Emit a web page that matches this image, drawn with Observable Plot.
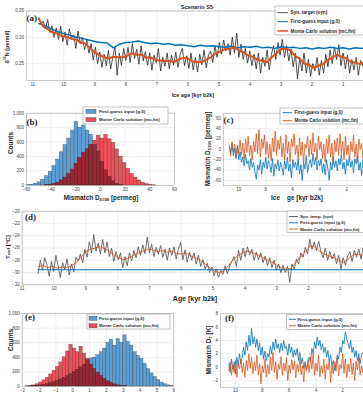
<!DOCTYPE html>
<html><head><meta charset="utf-8">
<script src="https://cdn.jsdelivr.net/npm/d3@7"></script>
<script src="https://cdn.jsdelivr.net/npm/@observablehq/plot@0.6"></script>
<style>
html,body{margin:0;padding:0;background:#fff;overflow:hidden;}
#fig{position:relative;width:363px;height:393px;overflow:hidden;background:#fff;}
#fig svg{position:absolute;max-width:none;}
</style></head><body><div id="fig"></div>
<script>
// ---------------- (a) d15N records ----------------
const aSynStart = 10.8, aSynStep = 0.07;
const aSyn = [
0.338,0.325,0.331,0.316,0.334,0.309,0.322,0.300,0.318,0.296,
0.321,0.292,0.310,0.285,0.316,0.298,0.305,0.279,0.312,0.288,
0.300,0.276,0.295,0.270,0.288,0.257,0.281,0.250,0.272,0.243,
0.268,0.246,0.275,0.240,0.262,0.283,0.228,0.270,0.247,0.279,
0.256,0.281,0.252,0.288,0.260,0.277,0.249,0.284,0.255,0.273,
0.247,0.270,0.238,0.266,0.252,0.279,0.236,0.262,0.245,0.270,
0.240,0.266,0.247,0.272,0.243,0.268,0.279,0.246,0.265,0.241,
0.270,0.238,0.262,0.234,0.268,0.248,0.276,0.242,0.266,0.274,
0.252,0.284,0.262,0.290,0.268,0.295,0.274,0.288,0.266,0.300,
0.270,0.308,0.262,0.287,0.258,0.279,0.251,0.274,0.246,0.268,
0.240,0.270,0.232,0.262,0.245,0.276,0.238,0.268,0.284,0.258,
0.290,0.266,0.296,0.262,0.284,0.255,0.278,0.244,0.270,0.221,
0.262,0.236,0.270,0.232,0.258,0.226,0.250,0.236,0.262,0.228,
0.256,0.232,0.268,0.244,0.276,0.250,0.282,0.258,0.286,0.246,
0.270,0.240,0.266,0.232,0.258,0.238,0.262,0.228,0.256,0.245,
0.262,0.240,0.268,0.246,0.258];
const aGuessStart = 10.8, aGuessStep = 0.2;
const aGuess = [
0.326,0.322,0.316,0.311,0.307,0.304,0.300,0.298,0.295,0.292,
0.290,0.289,0.280,0.287,0.290,0.291,0.293,0.290,0.288,0.289,
0.287,0.288,0.285,0.286,0.284,0.282,0.285,0.283,0.284,0.282,
0.281,0.283,0.280,0.282,0.281,0.283,0.280,0.281,0.279,0.282,
0.280,0.281,0.279,0.280,0.278,0.280,0.279,0.281,0.279,0.280,
0.278,0.280,0.279,0.281,0.280];
const aMcStart = 10.8, aMcStep = 0.15;
const aMc = [
0.334,0.320,0.315,0.309,0.307,0.302,0.301,0.297,0.296,0.290,
0.288,0.279,0.271,0.267,0.262,0.260,0.263,0.262,0.262,0.265,
0.270,0.267,0.267,0.261,0.262,0.257,0.256,0.255,0.255,0.253,
0.258,0.261,0.260,0.254,0.253,0.253,0.258,0.262,0.270,0.273,
0.278,0.278,0.281,0.275,0.271,0.265,0.263,0.257,0.256,0.253,
0.262,0.269,0.278,0.278,0.275,0.265,0.259,0.250,0.247,0.242,
0.246,0.249,0.257,0.261,0.267,0.263,0.260,0.253,0.252,0.249,
0.254,0.255,0.256];
const aTicksX = [11,10,9,8,7,6,5,4,3,2,1];
const aTicksY = [0.25,0.30,0.35];
const aNames = ["Syn. target (syn)", "First-guess input (g,0)", "Monte Carlo solution (mc,fin)"];

// ---------------- (b) d15N mismatch histograms ----------------
const bBinWidth = 3;
const bGuessStart = -60;
const bGuess = [5,12,25,45,80,130,190,270,360,460,560,650,760,880,800,830,760,700,560,470,330,210,120,60,25,8];
const bMcStart = -45;
const bMc = [4,10,20,40,70,110,160,220,300,380,450,500,560,620,690,650,700,640,590,500,400,310,230,160,110,70,40,22,10,4];
const bTicksX = [-60,-40,-20,0,20,40,60];
const bTicksY = [0,200,400,600,800,1000];
const histNames = ["First-guess input (g,0)", "Monte Carlo solution (mc,fin)"];

// ---------------- (c) d15N mismatch through time ----------------
const cStart = 10.7, cStep = 0.1;
const cGuess = [
5,-8,12,-12,2,-18,8,-20,-5,-25,
-15,-32,-10,-28,-22,-40,-18,-35,-25,-45,
-58,-30,-40,-20,-48,-25,-35,-15,-38,-22,
-30,-45,-18,-52,-28,-38,-20,-42,-25,-35,
-50,-22,-38,-15,-42,-28,-55,-20,-35,-25,
-40,-18,-48,-30,-60,-25,-38,-12,-45,-28,
-20,-35,-8,-30,-15,-40,-22,-32,-18,-45,
-28,-50,-20,-38,-60,-25,-40,-15,-35,-22,
-42,-18,-30,-10,-38,-25,-48,-20,-32,-15,
-35,-22,-45,-18,-28,-12,-40,-25,-50,-20,
-30,-15,-38,-22,-45,-18,-28,-25];
const cMc = [
8,-12,15,-5,10,-15,5,-8,18,-10,
12,-18,20,-6,25,-12,8,-20,15,-5,
30,-8,38,-15,20,2,28,-10,15,-18,
10,-22,22,-5,35,-12,18,0,25,-15,
12,-20,28,-8,15,-25,20,5,30,-10,
8,-18,22,-12,15,-28,10,2,25,-15,
18,-10,32,-5,12,-20,25,0,15,-18,
10,-25,20,-8,28,-15,12,-30,18,-5,
22,-12,30,-8,15,-20,25,-10,8,-22,
15,-5,28,-15,10,-25,20,0,12,-18,
18,-10,25,-5,12,-20,15,-8];
const cTicksX = [10,8,6,4,2];
const cTicksY = [-60,-40,-20,0,20,40,60];
const lineNames = ["First-guess input (g,0)", "Monte Carlo solution (mc,fin)"];

// ---------------- (d) surface temperature ----------------
const dSynStart = 10.5, dSynStep = 0.07;
const dSyn = [
-30.2,-28.0,-29.6,-27.6,-28.8,-30.6,-28.2,-29.8,-27.2,-28.9,
-30.8,-28.4,-29.5,-27.8,-30.4,-28.6,-29.9,-27.5,-28.1,-27.0,
-28.4,-26.2,-27.5,-25.0,-26.8,-23.8,-26.5,-25.2,-27.0,-24.6,
-26.8,-25.0,-27.4,-26.0,-28.2,-26.6,-27.9,-26.8,-29.2,-27.4,
-28.9,-26.8,-28.1,-26.4,-27.6,-25.8,-27.2,-25.5,-26.9,-24.2,
-26.8,-25.4,-27.4,-25.9,-27.0,-25.6,-27.5,-26.2,-28.0,-26.0,
-27.2,-25.8,-27.8,-26.2,-25.1,-27.9,-26.3,-28.3,-26.7,-28.0,
-26.8,-28.6,-27.2,-29.0,-27.9,-29.4,-28.5,-30.0,-29.1,-30.5,
-29.4,-30.8,-29.7,-30.3,-28.9,-30.2,-29.0,-28.2,-27.4,-29.0,
-26.4,-28.0,-26.0,-27.4,-25.8,-27.1,-26.2,-28.0,-26.7,-27.9,
-26.8,-28.4,-27.3,-28.9,-27.6,-29.2,-28.0,-29.6,-28.6,-30.0,
-28.8,-30.0,-29.0,-31.6,-28.6,-29.4,-27.8,-28.6,-26.8,-27.5,
-25.9,-27.0,-24.6,-26.2,-25.0,-26.4,-24.9,-26.6,-27.6,-26.0,
-28.0,-26.6,-27.8,-26.9,-28.6,-27.2,-29.4,-27.6,-28.8,-27.3,
-26.6,-28.2,-26.4,-27.5,-26.2,-27.8,-25.9,-27.3,-26.8,-28.0,
-27.2];
const dGuessLevel = -29.55;
const dGuessAges = [10.5, 0];
const dMcStart = 10.5, dMcStep = 0.15;
const dMc = [
-29.1,-28.8,-29.2,-29.0,-29.3,-29.1,-29.2,-28.9,-28.4,-27.5,
-26.6,-26.2,-26.0,-25.8,-26.1,-26.6,-27.2,-27.6,-27.9,-27.6,
-27.2,-26.8,-26.5,-26.2,-26.3,-26.6,-26.4,-26.7,-26.5,-26.9,
-27.0,-26.8,-27.3,-27.6,-28.0,-28.6,-29.3,-29.8,-30.0,-29.7,
-28.8,-27.8,-27.2,-26.7,-26.5,-26.8,-27.1,-27.5,-27.9,-28.3,
-28.8,-29.2,-29.5,-29.3,-28.4,-27.5,-26.6,-25.7,-25.8,-26.5,
-27.0,-27.3,-27.6,-28.0,-28.4,-27.8,-27.1,-27.0,-27.2,-27.0,
-27.3];
const dTicksX = [11,10,9,8,7,6,5,4,3,2,1];
const dTicksY = [-32,-30,-28,-26,-24,-22,-20];
const dNames = ["Syn. temp. (syn)", "First-guess input (g,0)", "Monte Carlo solution (mc,fin)"];

// ---------------- (e) temperature mismatch histograms ----------------
const eBinWidth = 0.2;
const eGuessStart = -2.6;
const eGuess = [2,5,10,16,24,34,46,60,78,98,120,145,170,200,230,265,300,360,385,395,430,470,520,600,640,560,650,600,700,610,560,470,420,380,310,240,180,130,90,55,30,15,6];
const eMcStart = -2.8;
const eMc = [3,8,16,30,55,85,120,165,215,270,330,400,480,570,520,470,545,450,380,300,240,190,140,100,70,45,28,15,7,3];
const eTicksX = [-3,-2,-1,0,1,2,3,4,5,6];
const eTicksY = [0,200,400,600,800,1000];

// ---------------- (f) temperature mismatch through time ----------------
const fStart = 10.5, fStep = 0.1;
const fGuess = [
0.5,-0.8,1.2,-0.3,0.8,-1.0,1.5,0.2,2.0,0.5,
1.5,3.0,1.8,3.8,2.5,4.8,3.2,5.8,3.5,4.5,
3.0,4.2,2.5,3.6,1.8,3.0,1.2,2.4,1.0,2.0,
1.5,3.2,2.0,3.8,2.6,4.2,2.8,3.5,2.2,3.6,
2.5,4.0,2.8,3.2,1.8,3.5,2.2,3.0,1.5,2.6,
1.8,2.8,1.0,2.2,0.5,1.4,-0.2,0.8,-0.5,0.6,
1.5,0.8,2.8,2.0,3.8,2.8,4.5,3.2,4.0,2.6,
3.5,2.2,3.0,1.5,2.5,0.8,1.8,0.2,1.0,-0.5,
0.5,1.8,1.2,3.0,2.2,4.0,3.5,5.3,4.2,3.6,
2.8,4.0,2.2,3.0,1.5,2.5,1.0,2.0,0.5,1.8,
2.2,1.5,2.8,1.8,3.2,2.4];
const fMc = [
-0.5,0.8,-1.2,0.3,-0.8,1.0,-1.5,0.5,-0.2,1.2,
-0.8,0.6,-1.5,1.0,-0.5,2.0,-0.2,1.5,-1.0,0.8,
-0.5,1.8,-1.2,0.5,-2.5,0.2,-0.8,1.2,-1.5,0.4,
-1.0,1.5,-0.5,2.2,-0.8,0.8,-1.8,0.5,-0.3,1.6,
-1.2,0.6,-0.6,1.4,-2.0,0.3,-0.9,1.1,-0.4,0.9,
-1.6,0.4,-0.7,1.3,-1.1,0.2,-2.2,0.7,-0.5,1.0,
-0.8,1.5,-0.3,2.0,-1.2,0.6,-0.6,1.8,-1.4,0.2,
-0.9,1.2,-1.8,0.5,-0.4,1.0,-2.3,0.3,-1.0,0.8,
-0.6,1.6,-1.3,0.4,-0.2,2.0,-0.9,1.2,-1.6,0.5,
-0.7,1.3,-1.1,0.6,-2.0,0.9,-0.4,1.5,-1.2,0.3,
-0.8,1.1,-0.5,0.7,-1.3,0.4];
const fTicksX = [10,8,6,4,2];
const fTicksY = [-2,0,2,4,6,8];

// ---------------- helpers ----------------
const FONT = "'Liberation Sans', Arial, sans-serif";
const BLUE = "#0072bd", ORANGE = "#d95319";
const HIST_BLUE = "#5b9fd6", HIST_RED = "#ee4f57", HIST_BOTH = "#9a2633";
const fig = document.getElementById("fig");

const series = (start, step, values) => values.map((v, i) => ({age: +(start - i * step).toFixed(3), v}));
const bins = (start, width, counts) => counts.map((n, i) => {
  const x1 = start + i * width;
  return {k: Math.round(x1 / width), x1, x2: x1 + width, n};
});
const shared = (a, b) => {
  const m = new Map(b.map(d => [d.k, d.n]));
  return a.filter(d => m.has(d.k)).map(d => ({...d, n: Math.min(d.n, m.get(d.k))}));
};

const grid = {stroke: "#dedede", strokeOpacity: 1, strokeWidth: 0.5};
const frame = () => Plot.frame({stroke: "#a8a8a8", strokeWidth: 0.6});
const axX = (ticks, fmt) => Plot.axisX(ticks, {tickSize: 0, tickPadding: 2, fontSize: 4.5, label: null, tickFormat: fmt});
const axY = (ticks, fmt) => Plot.axisY(ticks, {tickSize: 0, tickPadding: 2.5, fontSize: 4.5, label: null, tickFormat: fmt});

function panel(left, top, opts) {
  const svg = Plot.plot({
    ...opts,
    style: {background: "transparent", fontFamily: FONT, fontSize: "4.5px", color: "#3c3c3c", maxWidth: "none"}
  });
  svg.style.left = left + "px";
  svg.style.top = top + "px";
  svg.style.maxWidth = "none";
  fig.appendChild(svg);
  return svg;
}

function histMarks(guessRows, mcRows) {
  const edge = {stroke: "#262626", strokeWidth: 0.35, strokeOpacity: 0.75};
  return [
    Plot.rect(guessRows, {x1: "x1", x2: "x2", y1: d => 0, y2: "n", fill: HIST_BLUE, ...edge}),
    Plot.rect(mcRows, {x1: "x1", x2: "x2", y1: d => 0, y2: "n", fill: HIST_RED, ...edge}),
    Plot.rect(shared(guessRows, mcRows), {x1: "x1", x2: "x2", y1: d => 0, y2: "n", fill: HIST_BOTH, ...edge})
  ];
}

// ---------------- (a) ----------------
panel(0, 0, {
  width: 383, height: 100, marginLeft: 26, marginRight: 0, marginTop: 10.5, marginBottom: 20,
  x: {domain: [11.2, -0.3]}, y: {domain: [0.218, 0.35]},
  marks: [
    Plot.gridX(aTicksX, grid), Plot.gridY(aTicksY, grid),
    Plot.line(series(aSynStart, aSynStep, aSyn), {x: "age", y: "v", stroke: "#262626", strokeWidth: 0.8}),
    Plot.line(series(aGuessStart, aGuessStep, aGuess), {x: "age", y: "v", stroke: BLUE, strokeWidth: 1.5}),
    Plot.line(series(aMcStart, aMcStep, aMc), {x: "age", y: "v", stroke: ORANGE, strokeWidth: 2}),
    frame(), axX(aTicksX), axY(aTicksY, d3.format(".2f"))
  ]
});

// ---------------- (b) ----------------
panel(0, 100, {
  width: 182, height: 100, marginLeft: 26, marginRight: 8, marginTop: 12.7, marginBottom: 15,
  x: {domain: [-60, 60]}, y: {domain: [0, 1000]},
  marks: [
    Plot.gridX(bTicksX, grid), Plot.gridY(bTicksY, grid),
    ...histMarks(bins(bGuessStart, bBinWidth, bGuess), bins(bMcStart, bBinWidth, bMc)),
    frame(), axX(bTicksX), axY(bTicksY)
  ]
});

// ---------------- (c) ----------------
panel(190, 100, {
  width: 200, height: 100, marginLeft: 33, marginRight: 0, marginTop: 12.7, marginBottom: 15,
  x: {domain: [11.13, -1.24]}, y: {domain: [-70, 70]},
  marks: [
    Plot.gridX(cTicksX, grid), Plot.gridY(cTicksY, grid),
    Plot.line(series(cStart, cStep, cGuess), {x: "age", y: "v", stroke: BLUE, strokeWidth: 0.8}),
    Plot.line(series(cStart, cStep, cMc), {x: "age", y: "v", stroke: ORANGE, strokeWidth: 0.8}),
    frame(), axX(cTicksX), axY(cTicksY)
  ]
});

// ---------------- (d) ----------------
panel(0, 200, {
  width: 385, height: 100, marginLeft: 21.7, marginRight: 0, marginTop: 10.7, marginBottom: 15.7,
  x: {domain: [11, -0.42]}, y: {domain: [-32, -20]},
  marks: [
    Plot.gridX(dTicksX, grid), Plot.gridY(dTicksY, grid),
    Plot.line(series(dSynStart, dSynStep, dSyn), {x: "age", y: "v", stroke: "#4a4a4a", strokeWidth: 0.8}),
    Plot.line(dGuessAges.map(age => ({age, v: dGuessLevel})), {x: "age", y: "v", stroke: BLUE, strokeWidth: 1.2}),
    Plot.line(series(dMcStart, dMcStep, dMc), {x: "age", y: "v", stroke: ORANGE, strokeWidth: 0.9}),
    frame(), axX(dTicksX), axY(dTicksY)
  ]
});

// ---------------- (e) ----------------
panel(0, 300, {
  width: 182, height: 100, marginLeft: 21.7, marginRight: 8.7, marginTop: 13, marginBottom: 14,
  x: {domain: [-3, 6]}, y: {domain: [0, 1000]},
  marks: [
    Plot.gridX(eTicksX, grid), Plot.gridY(eTicksY, grid),
    ...histMarks(bins(eGuessStart, eBinWidth, eGuess), bins(eMcStart, eBinWidth, eMc)),
    frame(), axX(eTicksX), axY(eTicksY)
  ]
});

// ---------------- (f) ----------------
panel(190, 300, {
  width: 200, height: 100, marginLeft: 30, marginRight: 0, marginTop: 13.3, marginBottom: 13.3,
  x: {domain: [11.12, -1.57]}, y: {domain: [-3, 8]},
  marks: [
    Plot.gridX(fTicksX, grid), Plot.gridY(fTicksY, grid),
    Plot.line(series(fStart, fStep, fGuess), {x: "age", y: "v", stroke: BLUE, strokeWidth: 0.8}),
    Plot.line(series(fStart, fStep, fMc), {x: "age", y: "v", stroke: ORANGE, strokeWidth: 0.8}),
    frame(), axX(fTicksX), axY(fTicksY)
  ]
});

// ---------------- titles, axis labels, legends ----------------
const ov = d3.select(fig).append("svg").attr("width", 363).attr("height", 393)
  .style("left", "0px").style("top", "0px");

function label(x, y, parts, {size = 6.4, weight = "bold", rotate = false, anchor = "middle", family = FONT} = {}) {
  const t = ov.append("text")
    .attr("font-family", family).attr("font-size", size).attr("font-weight", weight)
    .attr("fill", "#1e1e1e").attr("text-anchor", anchor).attr("dominant-baseline", "central")
    .style("white-space", "pre")
    .attr("transform", `translate(${x},${y})` + (rotate ? " rotate(-90)" : ""));
  let offset = 0;
  for (const p of parts) {
    const [s, kind] = Array.isArray(p) ? p : [p, null];
    const target = kind === "sub" ? size * 0.35 : kind === "sup" ? -size * 0.35 : 0;
    const ts = t.append("tspan").text(s).attr("dy", target - offset);
    if (kind) ts.attr("font-size", size * 0.62);
    offset = target;
  }
}

function legend(x, y, w, h, rows, size) {
  ov.append("rect").attr("x", x).attr("y", y).attr("width", w).attr("height", h)
    .attr("fill", "#fff").attr("stroke", "#9a9a9a").attr("stroke-width", 0.6);
  for (const r of rows) {
    if (r.patch) {
      ov.append("rect").attr("x", r.x1).attr("y", r.y - 2).attr("width", r.x2 - r.x1).attr("height", 4)
        .attr("fill", r.color).attr("stroke", "#262626").attr("stroke-width", 0.35);
    } else {
      ov.append("line").attr("x1", r.x1).attr("x2", r.x2).attr("y1", r.y).attr("y2", r.y)
        .attr("stroke", r.color).attr("stroke-width", r.width || 1);
    }
    ov.append("text").attr("x", r.tx).attr("y", r.y).attr("font-family", FONT).attr("font-size", size)
      .attr("font-weight", "bold").attr("fill", "#1e1e1e").attr("dominant-baseline", "central").text(r.label);
  }
}

label(197, 6.5, ["Scenario S5"], {size: 5.6});
label(7, 47, ["δ", ["15", "sup"], "N [permil]"], {size: 5.5, rotate: true});
label(193, 94.5, ["Ice age [kyr b2k]"], {size: 5.4});
label(9.5, 143, ["Counts"], {size: 6.4, rotate: true});
label(101, 197, ["Mismatch D", ["δ15N", "sub"], " [permeg]"], {size: 6.4});
label(207, 149, ["Mismatch D", ["δ15N", "sub"], " [permeg]"], {size: 6.4, rotate: true});
label(297, 197, ["Ice    ge [kyr b2k]"], {size: 6.4});
label(7, 247, ["T", ["surf", "sub"], " [°C]"], {size: 6.2, rotate: true});
label(195, 298, ["Age [kyr b2k]"], {size: 7});
label(10, 340, ["Counts"], {size: 6.4, rotate: true});
label(208, 350, ["Mismatch D", ["T", "sub"], " [K]"], {size: 6.4, rotate: true});

const tag = {size: 9, anchor: "start", family: "'Liberation Serif', 'Times New Roman', serif"};
label(26.5, 17.5, ["(a)"], tag);
label(26.5, 121.7, ["(b)"], tag);
label(223.5, 119.5, ["(c)"], tag);
label(25, 216.7, ["(d)"], tag);
label(25, 316.7, ["(e)"], tag);
label(225, 318, ["(f)"], tag);

legend(275, 6, 110, 29, [
  {x1: 277.5, x2: 288, y: 12.7, tx: 290.5, color: "#555", width: 1, label: aNames[0]},
  {x1: 277.5, x2: 288, y: 21.7, tx: 290.5, color: BLUE, width: 1, label: aNames[1]},
  {x1: 277.5, x2: 288, y: 31, tx: 290.5, color: ORANGE, width: 1.5, label: aNames[2]}
], 4.7);
legend(83, 107, 85, 17, [
  {patch: true, x1: 86, x2: 96, y: 111.3, tx: 99, color: HIST_BLUE, label: histNames[0]},
  {patch: true, x1: 86, x2: 96, y: 119.8, tx: 99, color: HIST_RED, label: histNames[1]}
], 4.4);
legend(280, 108, 100, 16, [
  {x1: 282.5, x2: 292, y: 112.7, tx: 294.5, color: BLUE, width: 0.9, label: lineNames[0]},
  {x1: 282.5, x2: 292, y: 120.7, tx: 294.5, color: ORANGE, width: 0.9, label: lineNames[1]}
], 4.6);
legend(287, 211, 100, 21.3, [
  {x1: 289, x2: 298, y: 216.5, tx: 300, color: "#555", width: 0.9, label: dNames[0]},
  {x1: 289, x2: 298, y: 222.8, tx: 300, color: BLUE, width: 0.9, label: dNames[1]},
  {x1: 289, x2: 298, y: 229, tx: 300, color: ORANGE, width: 0.9, label: dNames[2]}
], 4.3);
legend(87, 314, 83, 15, [
  {patch: true, x1: 89, x2: 97, y: 318.2, tx: 99, color: HIST_BLUE, label: histNames[0]},
  {patch: true, x1: 89, x2: 97, y: 325.8, tx: 99, color: HIST_RED, label: histNames[1]}
], 4.3);
legend(286.7, 314.3, 100, 15, [
  {x1: 289, x2: 296, y: 319.3, tx: 297.5, color: BLUE, width: 0.9, label: lineNames[0]},
  {x1: 289, x2: 296, y: 325.7, tx: 297.5, color: ORANGE, width: 0.9, label: lineNames[1]}
], 4.3);
</script></body></html>
